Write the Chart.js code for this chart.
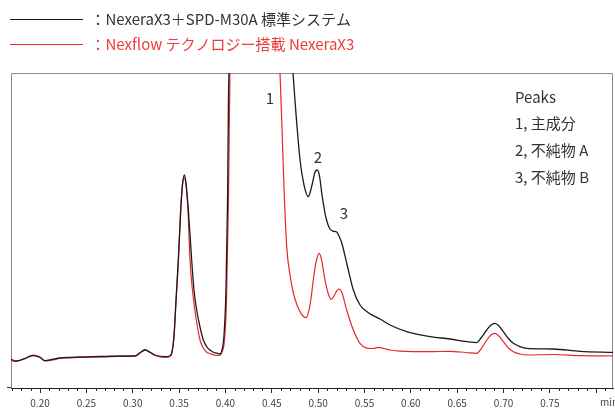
<!DOCTYPE html>
<html>
<head>
<meta charset="utf-8">
<script src="https://cdn.jsdelivr.net/npm/chart.js@4/dist/chart.umd.min.js"></script>
<style>
  html, body { margin: 0; padding: 0; background: #ffffff; }
  #wrap { width: 615px; height: 408px; }
</style>
</head>
<body>
<div id="wrap"><canvas id="chart" width="615" height="408"></canvas></div>
<script>
// Retention time (min) and detector signal for the standard system
const standardTime = [
  0.1687, 0.1741, 0.1827, 0.1924, 0.2000, 0.2054, 0.2129, 0.2216, 0.2431, 0.2647,
  0.2863, 0.3025, 0.3079, 0.3133, 0.3187, 0.3241, 0.3348, 0.3402, 0.3424, 0.3446,
  0.3467, 0.3492, 0.3518, 0.3537, 0.3557, 0.3575, 0.3600, 0.3636, 0.3661, 0.3690,
  0.3726, 0.3762, 0.3801, 0.3834, 0.3877, 0.3923, 0.3942, 0.3963, 0.3985, 0.4006,
  0.4023, 0.4033, 0.4044, 0.4060, 0.4093, 0.4157, 0.4211, 0.4319, 0.4481, 0.4589,
  0.4654, 0.4697, 0.4729, 0.4805, 0.4848, 0.4894, 0.4934, 0.4967, 0.4991, 0.5015,
  0.5042, 0.5085, 0.5128, 0.5161, 0.5201, 0.5225, 0.5255, 0.5308, 0.5380, 0.5452,
  0.5542, 0.5668, 0.5776, 0.5956, 0.6207, 0.6423, 0.6603, 0.6711, 0.6757, 0.6819,
  0.6865, 0.6908, 0.6951, 0.6998, 0.7048, 0.7106, 0.7178, 0.7250, 0.7537, 0.7825,
  0.8181
];
const standardSignal = [
  9.11, 8.57, 9.21, 10.25, 9.68, 8.67, 9.05, 9.52, 9.84, 10.00,
  10.16, 10.16, 11.11, 12.06, 11.27, 10.48, 9.94, 10.25, 11.43, 16.83,
  27.94, 40.63, 56.51, 64.44, 67.62, 65.08, 56.51, 40.63, 31.11, 24.76,
  19.37, 15.24, 13.02, 12.06, 11.27, 10.95, 10.79, 12.06, 16.83, 31.11,
  59.68, 91.43, 120, 300, 700, 1100, 1200, 800, 320, 190,
  140, 115, 100, 72.38, 64.44, 60.73, 64.44, 68.57, 69.21, 67.30,
  61.27, 53.97, 50.48, 49.84, 49.52, 48.25, 46.03, 39.68, 31.11, 26.35,
  23.90, 21.90, 20.00, 17.87, 16.29, 15.56, 14.70, 14.38, 15.87, 18.41,
  20.00, 20.54, 19.68, 17.87, 15.87, 14.19, 13.17, 12.60, 12.38, 11.65,
  11.33
];

// Retention time (min) and detector signal with Nexflow technology
const nexflowTime = [
  0.1687, 0.1741, 0.1827, 0.1924, 0.2000, 0.2054, 0.2129, 0.2216, 0.2431, 0.2647,
  0.2863, 0.3025, 0.3079, 0.3133, 0.3187, 0.3241, 0.3348, 0.3402, 0.3424, 0.3446,
  0.3467, 0.3492, 0.3516, 0.3535, 0.3553, 0.3573, 0.3597, 0.3618, 0.3650, 0.3683,
  0.3726, 0.3762, 0.3801, 0.3834, 0.3877, 0.3923, 0.3942, 0.3963, 0.3990, 0.4012,
  0.4033, 0.4044, 0.4055, 0.4082, 0.4136, 0.4211, 0.4373, 0.4481, 0.4546, 0.4589,
  0.4611, 0.4633, 0.4661, 0.4697, 0.4733, 0.4768, 0.4805, 0.4837, 0.4870, 0.4902,
  0.4924, 0.4948, 0.4978, 0.5013, 0.5042, 0.5074, 0.5107, 0.5139, 0.5172, 0.5199,
  0.5229, 0.5258, 0.5308, 0.5380, 0.5452, 0.5542, 0.5592, 0.5649, 0.5711, 0.5776,
  0.5883, 0.6207, 0.6423, 0.6595, 0.6711, 0.6757, 0.6819, 0.6865, 0.6908, 0.6951,
  0.6998, 0.7048, 0.7106, 0.7178, 0.7250, 0.7533, 0.7825, 0.8181
];
const nexflowSignal = [
  8.73, 8.41, 9.21, 10.48, 9.84, 8.57, 8.89, 9.37, 9.68, 9.84,
  10.00, 10.16, 11.27, 12.22, 11.43, 10.32, 9.68, 10.00, 11.43, 16.51,
  27.30, 40.00, 55.87, 64.13, 66.98, 64.76, 55.87, 40.63, 29.52, 22.22,
  15.24, 12.70, 11.27, 10.95, 10.48, 10.32, 10.48, 11.43, 15.24, 27.94,
  59.68, 88.25, 125, 400, 900, 1300, 600, 250, 140, 100,
  81.90, 62.86, 44.86, 35.87, 30.16, 26.67, 24.22, 22.86, 22.32, 24.76,
  28.57, 34.29, 40.00, 42.76, 40.00, 34.29, 30.16, 28.16, 29.21, 30.79,
  31.43, 30.16, 24.76, 18.41, 14.19, 12.60, 12.54, 12.92, 12.54, 12.06,
  11.68, 11.52, 11.65, 11.27, 11.02, 12.38, 15.24, 16.83, 17.37, 16.51,
  14.70, 12.86, 11.52, 10.79, 10.48, 10.63, 10.25, 10.16
];

// Axis ticks (min)
const majorTicks = [0.20, 0.25, 0.30, 0.35, 0.40, 0.45, 0.50, 0.55, 0.60, 0.65, 0.70, 0.75, 0.80];
const tickLabels = ['0.20', '0.25', '0.30', '0.35', '0.40', '0.45', '0.50', '0.55', '0.60', '0.65', '0.70', '0.75', ''];
const minorTicks = [];
for (let i = 17; i <= 81; i++) if (i % 5 !== 0) minorTicks.push(i / 100);
const axisRange = [0.1687, 0.8181];
const signalRange = [0, 100];

// Series names
const seriesNames = ['：NexeraX3＋SPD-M30A 標準システム', '：Nexflow テクノロジー搭載 NexeraX3'];

// Peak annotations
const peakNumbers = ['1', '2', '3'];
const peakLabelTime = [0.4481, 0.4999, 0.5279];
const peakLabelLevel = [92, 73.3, 55.6];
const peakKey = ['Peaks', '1, 主成分', '2, 不純物 A', '3, 不純物 B'];

const FONT = "'Noto Sans CJK JP', 'Noto Sans', sans-serif";
const BLACK = '#1b1b1b';
const RED = '#e8262c';

const toPoints = (t, v) => t.map((x, i) => ({ x: x, y: v[i] }));

const decorations = {
  id: 'decorations',
  beforeDatasetsDraw(chart) {
    const { ctx, chartArea: a } = chart;
    const xs = chart.scales.x;
    ctx.save();
    // frame around plot area
    ctx.strokeStyle = '#8c8c8c';
    ctx.lineWidth = 1;
    ctx.beginPath();
    ctx.moveTo(a.left + 0.5, a.bottom);
    ctx.lineTo(a.left + 0.5, a.top + 0.5);
    ctx.lineTo(a.right - 0.5, a.top + 0.5);
    ctx.lineTo(a.right - 0.5, a.bottom);
    ctx.stroke();
    // small origin tick on the signal axis
    ctx.strokeStyle = '#333';
    ctx.beginPath();
    ctx.moveTo(a.left - 4, a.bottom - 0.5);
    ctx.lineTo(a.left, a.bottom - 0.5);
    ctx.stroke();
    // minor time ticks
    ctx.beginPath();
    minorTicks.forEach(v => {
      const px = Math.round(xs.getPixelForValue(v)) + 0.5;
      ctx.moveTo(px, a.bottom);
      ctx.lineTo(px, a.bottom + 3);
    });
    ctx.stroke();
    ctx.restore();
  },
  afterDraw(chart) {
    const { ctx, chartArea: a } = chart;
    const xs = chart.scales.x, ys = chart.scales.y;
    ctx.save();
    ctx.fillStyle = '#333';
    ctx.textBaseline = 'middle';
    // peak numbers
    ctx.font = '15px ' + FONT;
    ctx.textAlign = 'center';
    peakNumbers.forEach((s, i) => {
      ctx.fillText(s, xs.getPixelForValue(peakLabelTime[i]), ys.getPixelForValue(peakLabelLevel[i]));
    });
    // peak key
    ctx.textAlign = 'left';
    peakKey.forEach((s, i) => {
      ctx.fillText(s, a.right - 98, a.top + 24 + i * 26.7);
    });
    // unit label
    ctx.font = '10px ' + FONT;
    ctx.fillStyle = '#444';
    ctx.fillText('min', a.right - 13, a.bottom + 14);
    ctx.restore();
  }
};

new Chart(document.getElementById('chart'), {
  type: 'line',
  data: {
    datasets: [
      {
        label: seriesNames[0],
        data: toPoints(standardTime, standardSignal),
        borderColor: BLACK,
        backgroundColor: BLACK,
        borderWidth: 1.3,
        pointRadius: 0,
        cubicInterpolationMode: 'monotone',
        fill: false
      },
      {
        label: seriesNames[1],
        data: toPoints(nexflowTime, nexflowSignal),
        borderColor: RED,
        backgroundColor: RED,
        borderWidth: 1.2,
        pointRadius: 0,
        cubicInterpolationMode: 'monotone',
        fill: false
      }
    ]
  },
  options: {
    responsive: false,
    animation: false,
    events: [],
    layout: { padding: { left: 0, right: 2, top: 2, bottom: 0 } },
    plugins: {
      tooltip: { enabled: false },
      // empty spacer between the legend and the plot area
      title: {
        display: true,
        text: '',
        weight: 900,
        padding: 0,
        font: { family: FONT, size: 9.2 }
      },
      legend: {
        display: true,
        position: 'top',
        align: 'start',
        labels: {
          boxWidth: 73,
          boxHeight: 1,
          padding: 10,
          font: { family: FONT, size: 15 },
          generateLabels(chart) {
            return chart.data.datasets.map((ds, i) => ({
              text: ds.label,
              fillStyle: ds.borderColor,
              strokeStyle: ds.borderColor,
              fontColor: i === 0 ? '#333333' : '#ee3b3b',
              lineWidth: 0,
              hidden: false,
              datasetIndex: i
            }));
          }
        }
      }
    },
    scales: {
      x: {
        type: 'linear',
        min: axisRange[0],
        max: axisRange[1],
        afterBuildTicks(scale) {
          scale.ticks = majorTicks.map(v => ({ value: v }));
        },
        afterFit(scale) { scale.height = 20; },
        ticks: {
          autoSkip: false,
          maxRotation: 0,
          padding: 4,
          color: '#444',
          font: { family: FONT, size: 10 },
          callback(value, index) { return tickLabels[index]; }
        },
        grid: { drawOnChartArea: false, drawTicks: true, tickLength: 5, color: '#333' },
        border: { display: true, color: '#222', width: 1 }
      },
      y: {
        display: true,
        min: signalRange[0],
        max: signalRange[1],
        afterFit(scale) { scale.width = 11; },
        ticks: { display: false },
        grid: { display: false, drawTicks: false },
        border: { display: false }
      }
    }
  },
  plugins: [decorations]
});
</script>
</body>
</html>
